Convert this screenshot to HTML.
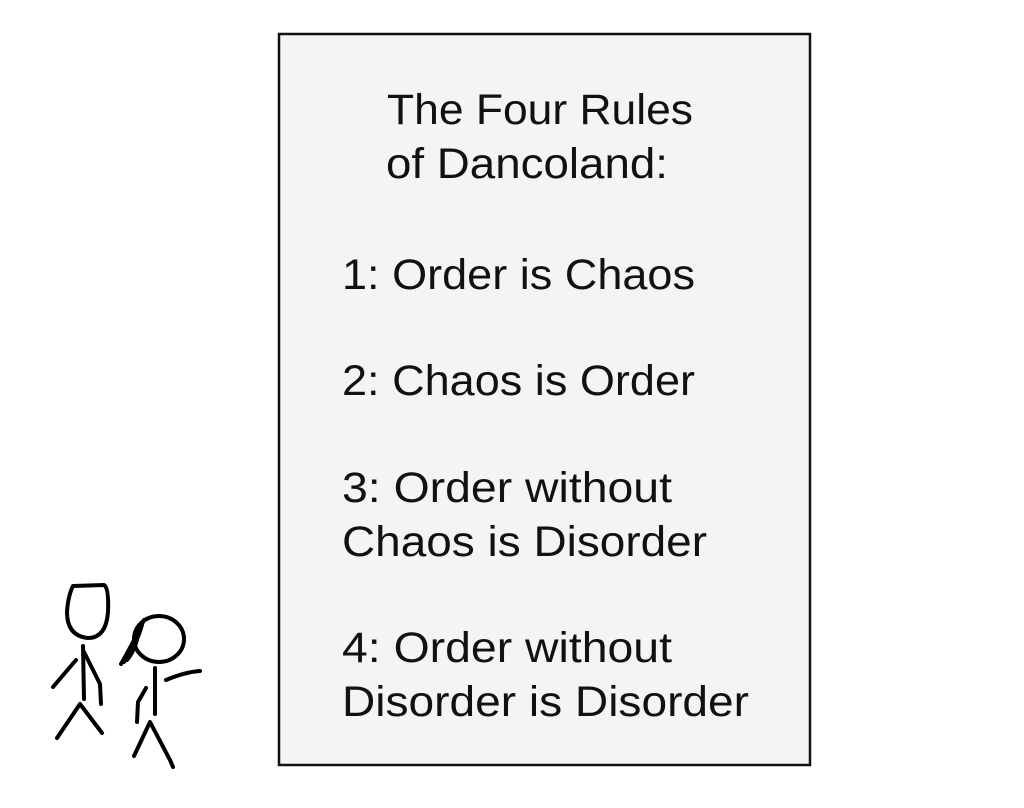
<!DOCTYPE html>
<html><head><style>html,body{margin:0;padding:0;background:#fff;}svg{display:block}</style></head>
<body>
<svg width="1024" height="808" viewBox="0 0 1024 808" xmlns="http://www.w3.org/2000/svg">
<rect x="279" y="34" width="531" height="731" fill="#f4f4f4" stroke="#111" stroke-width="2.5"/>
<g font-family="Liberation Sans, sans-serif" font-size="43" fill="#111">
<text x="387" y="124" textLength="306" lengthAdjust="spacingAndGlyphs">The Four Rules</text>
<text x="386" y="178" textLength="282" lengthAdjust="spacingAndGlyphs">of Dancoland:</text>
<text x="342" y="289" textLength="353" lengthAdjust="spacingAndGlyphs">1: Order is Chaos</text>
<text x="342" y="395" textLength="353" lengthAdjust="spacingAndGlyphs">2: Chaos is Order</text>
<text x="342" y="502" textLength="330" lengthAdjust="spacingAndGlyphs">3: Order without</text>
<text x="342" y="556" textLength="365" lengthAdjust="spacingAndGlyphs">Chaos is Disorder</text>
<text x="342" y="662" textLength="330" lengthAdjust="spacingAndGlyphs">4: Order without</text>
<text x="342" y="716" textLength="407" lengthAdjust="spacingAndGlyphs">Disorder is Disorder</text>
</g>
<g fill="none" stroke="#000" stroke-width="4" stroke-linecap="round" stroke-linejoin="round">
<path d="M73,586 L104,585 Q109,588 108,612 Q106,638 88,638 Q67,636 67,612 Q68,596 73,586 Z"/>
<path d="M83,646 L84,699"/>
<path d="M53,687 L76,660"/>
<path d="M84,652 L100,684 L101,704"/>
<path d="M57,738 L80,704 L102,733"/>
<ellipse cx="159" cy="639" rx="25" ry="23"/>
<path d="M121,664 Q132,645 144,620 M124,662 Q136,646 142,625 M127,660 Q137,648 139,628"/>
<path d="M155,668 L155,714"/>
<path d="M166,680 Q185,672 200,671"/>
<path d="M146,688 L138,702 L137,722"/>
<path d="M134,756 L150,722 L170,760 L173,767"/>
</g>
</svg>
</body></html>
